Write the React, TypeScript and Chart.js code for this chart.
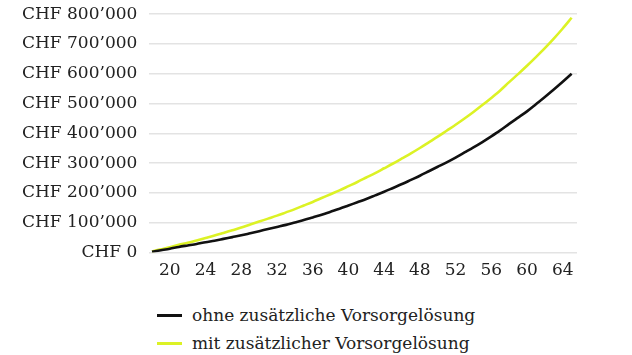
import React, { useEffect, useRef } from "react";
import { Chart, registerables } from "chart.js";

Chart.register(...registerables);

// Age of the saver (years)
const ages: number[] = [
  18, 19, 20, 21, 22, 23, 24, 25, 26, 27, 28, 29, 30, 31, 32, 33,
  34, 35, 36, 37, 38, 39, 40, 41, 42, 43, 44, 45, 46, 47, 48, 49,
  50, 51, 52, 53, 54, 55, 56, 57, 58, 59, 60, 61, 62, 63, 64, 65,
];

// Accumulated capital without an additional pension solution (CHF)
const ohneVorsorge: number[] = [
  3000, 8000, 13000, 19000, 24000, 29000, 35000, 40000, 46000, 52000, 58000, 65000,
  72000, 79000, 86000, 93000, 101000, 109000, 118000, 127000, 137000, 147000, 158000, 169000,
  180000, 192000, 204000, 217000, 230000, 244000, 258000, 273000, 288000, 303000, 319000, 336000,
  353000, 371000, 390000, 410000, 432000, 453000, 474000, 498000, 522000, 547000, 573000, 600000,
];

// Accumulated capital with an additional pension solution (CHF)
const mitVorsorge: number[] = [
  4000, 11000, 18000, 26000, 33000, 41000, 49000, 57000, 66000, 75000, 84000, 94000,
  104000, 114000, 124000, 135000, 146000, 158000, 170000, 183000, 196000, 209000, 223000, 237000,
  252000, 267000, 283000, 299000, 316000, 333000, 351000, 370000, 389000, 409000, 429000, 450000,
  472000, 495000, 519000, 544000, 572000, 599000, 627000, 656000, 686000, 718000, 752000, 788000,
];

// Labelled ages on the horizontal axis
const ageTicks: number[] = [20, 24, 28, 32, 36, 40, 44, 48, 52, 56, 60, 64];

const seriesLabels: string[] = [
  "ohne zusätzliche Vorsorgelösung",
  "mit zusätzlicher Vorsorgelösung",
];
const seriesColors: string[] = ["#111111", "#dcf225"];

const FONT = "'DejaVu Serif', serif";
const TEXT = "#222222";

function chf(v: number): string {
  const s = Math.round(v).toString().replace(/\B(?=(\d{3})+(?!\d))/g, "\u2019");
  return `CHF ${s}`;
}

export default function App() {
  const canvasRef = useRef<HTMLCanvasElement | null>(null);

  useEffect(() => {
    const canvas = canvasRef.current;
    if (!canvas) return;
    const series = [ohneVorsorge, mitVorsorge];
    const chart = new Chart(canvas, {
      type: "line",
      data: {
        datasets: series.map((vals, i) => ({
          label: seriesLabels[i],
          data: vals.map((v, j) => ({ x: ages[j], y: v })),
          borderColor: seriesColors[i],
          backgroundColor: seriesColors[i],
          borderWidth: 2.6,
          pointRadius: 0,
          tension: 0.3,
          fill: false,
        })),
      },
      options: {
        animation: false,
        responsive: false,
        devicePixelRatio: 1,
        layout: { padding: { left: 10, right: 55, top: 0, bottom: 0 } },
        plugins: {
          legend: { display: false },
          tooltip: { enabled: false },
        },
        scales: {
          x: {
            type: "linear",
            min: 17.7,
            max: 65.6,
            afterBuildTicks: (axis: any) => {
              axis.ticks = ageTicks.map((v) => ({ value: v }));
            },
            grid: { display: false },
            border: { display: false },
            ticks: {
              autoSkip: false,
              maxRotation: 0,
              padding: 0,
              color: TEXT,
              font: { family: FONT, size: 17 },
              callback: (v: any) => String(v),
            },
          },
          y: {
            min: 0,
            max: 800000,
            grid: { color: "#e3e3e3", lineWidth: 1.5, drawTicks: false },
            border: { display: false },
            ticks: {
              stepSize: 100000,
              padding: 12,
              color: TEXT,
              font: { family: FONT, size: 17 },
              callback: (v: any) => chf(Number(v)),
            },
          },
        },
      },
    });
    return () => chart.destroy();
  }, []);

  return (
    <div
      style={{
        position: "fixed",
        left: 0,
        top: 0,
        width: 632,
        height: 355,
        background: "#ffffff",
        overflow: "hidden",
      }}
    >
      <canvas
        ref={canvasRef}
        width={632}
        height={289}
        style={{ display: "block", position: "absolute", left: 0, top: -8 }}
      />
      {seriesLabels.map((label, i) => (
        <div
          key={label}
          style={{
            position: "absolute",
            left: 157,
            top: 303 + i * 28,
            height: 24,
            display: "flex",
            alignItems: "center",
            fontFamily: FONT,
            fontSize: 17,
            color: TEXT,
            whiteSpace: "nowrap",
          }}
        >
          <span
            style={{
              display: "inline-block",
              width: 25,
              height: 3,
              background: seriesColors[i],
              marginRight: 10,
            }}
          />
          {label}
        </div>
      ))}
    </div>
  );
}
